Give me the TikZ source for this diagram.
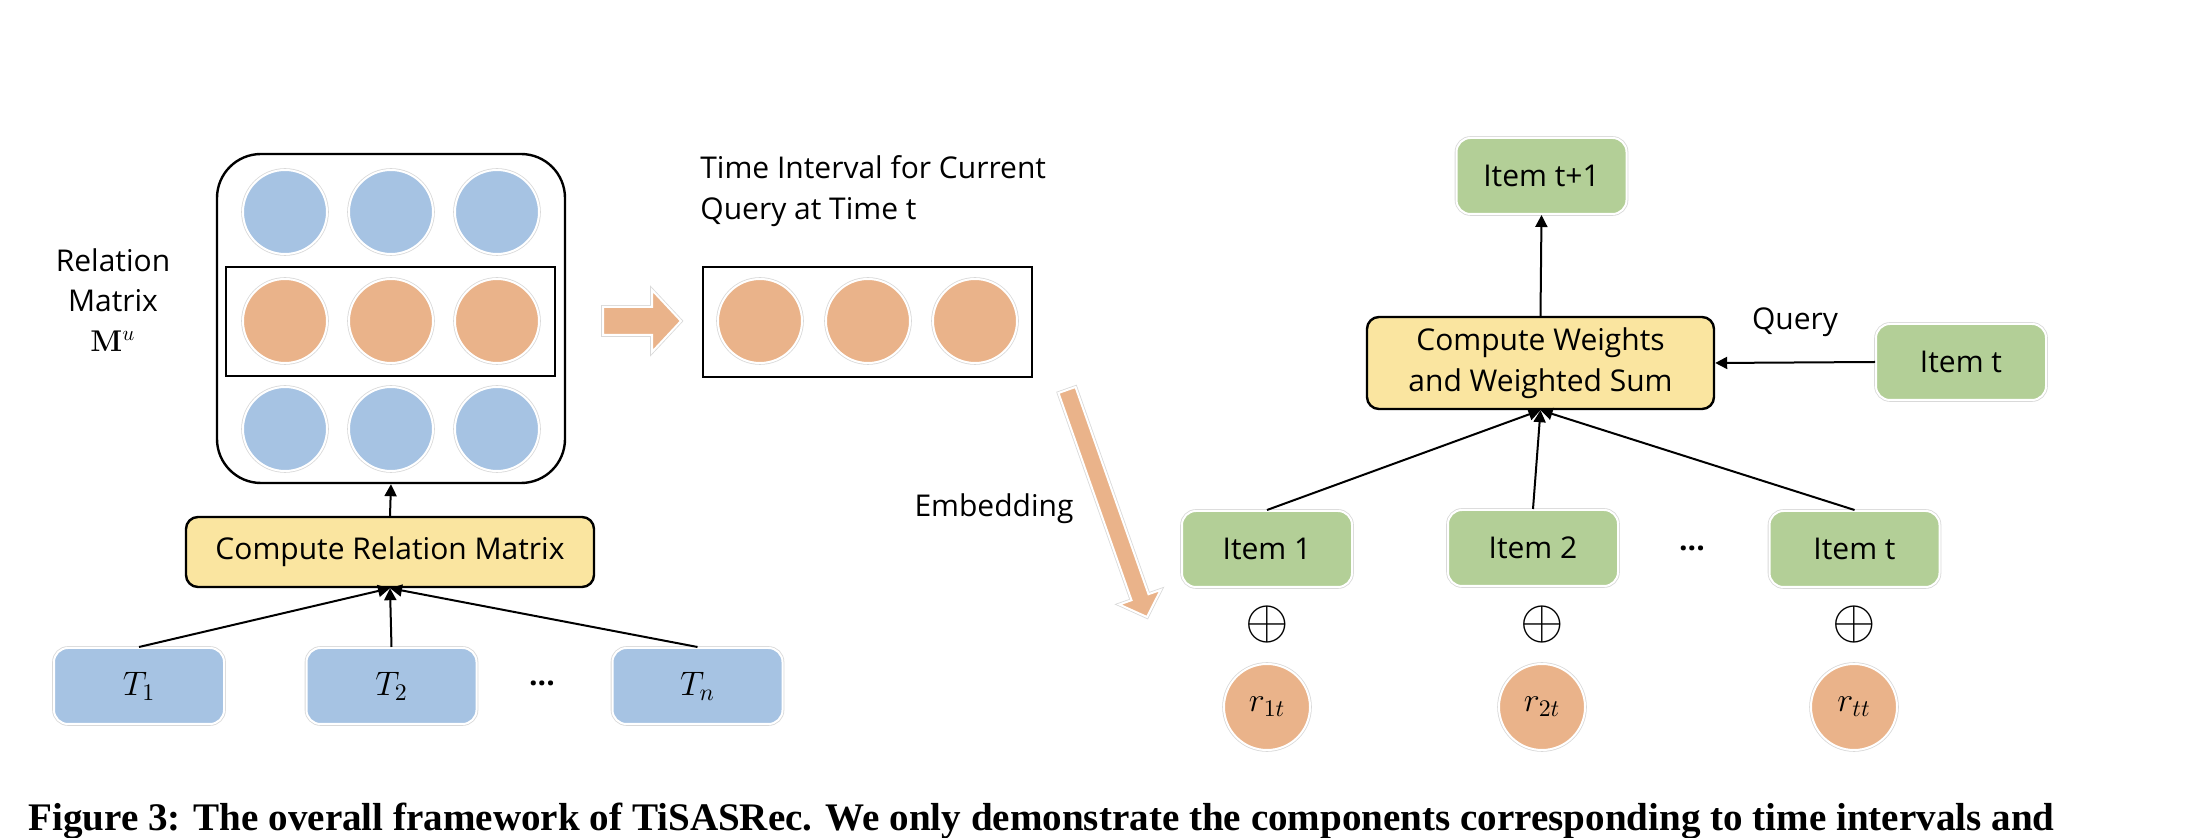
\RequirePackage{fix-cm}
\documentclass[tikz,border=0pt]{standalone}
\usepackage[no-math]{fontspec}
\setmainfont{Open Sans}
\newfontfamily\capfont{Liberation Serif}
\usetikzlibrary{arrows.meta}
\definecolor{cblue}{HTML}{A6C3E3}
\definecolor{corange}{HTML}{EAB38A}
\definecolor{cgreen}{HTML}{B3CF97}
\definecolor{cyellow}{HTML}{FAE5A0}
\tikzset{
  glow/.style={draw=white, line width=1pt, preaction={draw=black!15, line width=1.8pt}},
  bluebox/.style={glow, fill=cblue, rounded corners=7pt, minimum width=85pt, minimum height=38pt, inner sep=0pt},
  greenbox/.style={glow, fill=cgreen, rounded corners=7pt, minimum width=85pt, minimum height=38pt, inner sep=0pt, font=\fontsize{15}{20}\selectfont},
  bdot/.style={circle, glow, fill=cblue, inner sep=0pt, minimum size=42pt},
  odot/.style={circle, glow, fill=corange, inner sep=0pt, minimum size=42pt},
  rdot/.style={circle, glow, fill=corange, inner sep=0pt, minimum size=43pt},
  yellowbox/.style={draw=black, line width=1.2pt, fill=cyellow, rounded corners=6pt, inner sep=0pt, font=\fontsize{15}{20.5}\selectfont, align=center},
  frame/.style={draw=black, line width=1.2pt, inner sep=0pt},
  conn/.style={line width=1pt, -{Triangle[length=6pt,width=6pt]}},
  lbl/.style={inner sep=0pt, font=\fontsize{15}{20}\selectfont},
  mlbl/.style={inner sep=0pt, font=\fontsize{17}{19}\selectfont},
  oplusnode/.style={inner sep=0pt, font=\fontsize{10}{12}\selectfont},
  blockarrow/.style={glow, fill=corange, line join=miter},
}
\begin{document}
\begin{tikzpicture}[x=0.5pt, y=-0.5pt]
\useasboundingbox (0,0) rectangle (2206,838);
% ---------- left part ----------
\node[frame, rounded corners=22pt, minimum width=174pt, minimum height=164.5pt] (mat) at (391,318.5) {};
\node[frame, minimum width=164.5pt, minimum height=54.5pt] (row) at (390.5,321.5) {};
\node[bdot] (a11) at (285,212) {};
\node[bdot] (a12) at (391,212) {};
\node[bdot] (a13) at (497,212) {};
\node[odot] (a21) at (285,321) {};
\node[odot] (a22) at (391,321) {};
\node[odot] (a23) at (497,321) {};
\node[bdot] (a31) at (285,429) {};
\node[bdot] (a32) at (391,429) {};
\node[bdot] (a33) at (497,429) {};
\node[lbl, align=center] (matlbl) at (113,300) {Relation\\Matrix\\$\mathbf{M}^{u}$};

\node[yellowbox, minimum width=204pt, minimum height=35pt] (crm) at (390,552) {Compute Relation Matrix};
\node[bluebox] (t1) at (139,686) {};
\node[bluebox] (t2) at (391.5,686) {};
\node[bluebox] (tn) at (697.5,686) {};
\node[mlbl] (t1l) at (t1) {$T_1$};
\node[mlbl] (t2l) at (t2) {$T_2$};
\node[mlbl] (tnl) at (tn) {$T_n$};
\node[lbl] (dotsl) at (542,683) {\textbf{...}};
\draw[conn] (t1.north) -- (crm.south);
\draw[conn] (t2.north) -- (crm.south);
\draw[conn] (tn.north) -- (crm.south);
\draw[conn] (crm.north) -- (mat.south);

% block arrow to the right
\path[blockarrow] (603,307) -- (652,307) -- (652,290) -- (681,321) -- (652,352) -- (652,335) -- (603,335) -- cycle;

% time interval row
\node[frame, minimum width=164.5pt, minimum height=55pt] (tiv) at (867.5,322) {};
\node[odot] (b1) at (760,321) {};
\node[odot] (b2) at (868,321) {};
\node[odot] (b3) at (975,321) {};
\node[lbl, anchor=west, align=left, font=\fontsize{15}{20.5}\selectfont] (tivlbl) at (700,191) {Time Interval for Current\\Query at Time t};

% diagonal embedding arrow
\path[blockarrow] (1075.5,387) -- (1148.5,594.2) -- (1160.7,589.9) -- (1147,617) -- (1119.3,604.5) -- (1131.5,600.2) -- (1058.5,393) -- cycle;
\node[lbl] (emb) at (994,509) {Embedding};

% ---------- right part ----------
\node[greenbox] (inext) at (1541.5,176) {Item t+1};
\node[yellowbox, minimum width=173.5pt, minimum height=46pt] (cw) at (1540.5,363) {Compute Weights\\and Weighted Sum};
\node[greenbox] (itq) at (1961,362) {Item t};
\node[lbl] (query) at (1795,322) {Query};
\node[greenbox] (i1) at (1267,549) {Item 1};
\node[greenbox] (i2) at (1533,548) {Item 2};
\node[greenbox] (it) at (1854.5,549) {Item t};
\node[lbl] (dotsr) at (1692,548) {\textbf{...}};
\draw[conn] (cw.north) -- (inext.south);
\draw[conn] (itq.west) -- (cw.east);
\draw[conn] (i1.north) -- (cw.south);
\draw[conn] (i2.north) -- (cw.south);
\draw[conn] (it.north) -- (cw.south);

\node[oplusnode] (p1) at (1267,625) {\scalebox{2.8}{$\oplus$}};
\node[oplusnode] (p2) at (1542,625) {\scalebox{2.8}{$\oplus$}};
\node[oplusnode] (pt) at (1854,625) {\scalebox{2.8}{$\oplus$}};
\node[rdot] (r1) at (1267,707) {};
\node[rdot] (r2) at (1542,707) {};
\node[rdot] (rt) at (1854,707) {};
\node[mlbl] (r1l) at (r1) {$r_{1t}$};
\node[mlbl] (r2l) at (r2) {$r_{2t}$};
\node[mlbl] (rtl) at (rt) {$r_{tt}$};

% caption
\node[anchor=base west, inner sep=0pt] (cap) at (28,830) {\resizebox{1013pt}{!}{\capfont\bfseries Figure 3: The overall framework of TiSASRec. We only demonstrate the components corresponding to time intervals and}};
\end{tikzpicture}
\end{document}
